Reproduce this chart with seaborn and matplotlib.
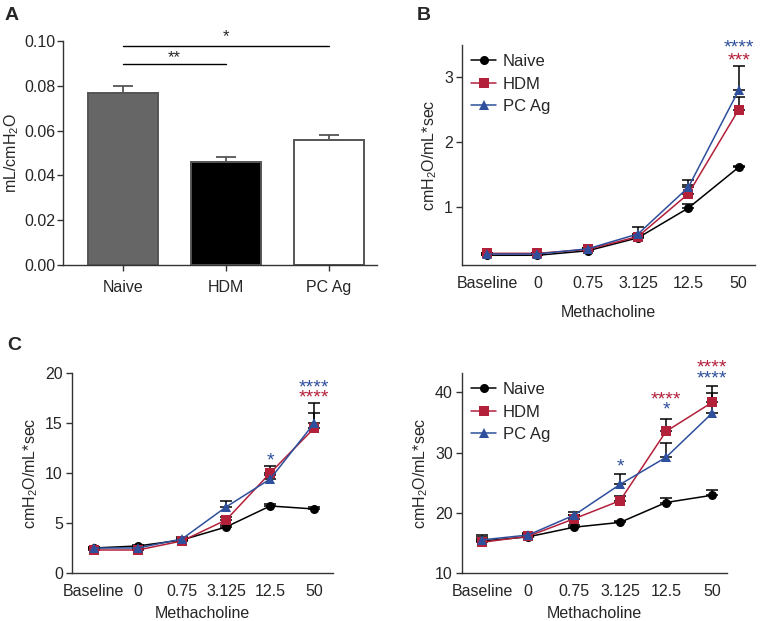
import matplotlib
matplotlib.use("Agg")
import matplotlib.pyplot as plt
import seaborn as sns
import pandas as pd
import numpy as np

sns.set_theme(style="ticks")
plt.rcParams['font.family'] = ['Liberation Sans', 'DejaVu Sans']
plt.rcParams['mathtext.fontset'] = 'custom'
plt.rcParams['mathtext.rm'] = 'Liberation Sans'
plt.rcParams['mathtext.it'] = 'Liberation Sans:italic'

# ---- data ----
groups = ['Naive', 'HDM', 'PC Ag']
bar_means = [0.077, 0.046, 0.056]
bar_sem = [0.003, 0.002, 0.002]

doses = ['Baseline', '0', '0.75', '3.125', '12.5', '50']

# panel B
b_naive = [0.25, 0.25, 0.32, 0.52, 0.98, 1.61]
b_hdm = [0.28, 0.28, 0.34, 0.54, 1.20, 2.50]
b_pcag = [0.27, 0.27, 0.35, 0.58, 1.30, 2.80]
b_naive_err = [0.01, 0.01, 0.02, 0.02, 0.07, 0.02]
b_hdm_err = [0.01, 0.01, 0.02, 0.03, 0.14, 0.2]
b_pcag_err = [0.01, 0.01, 0.02, 0.11, 0.12, 0.37]

# panel C
c_naive = [2.5, 2.7, 3.3, 4.6, 6.7, 6.4]
c_hdm = [2.3, 2.3, 3.2, 5.3, 10.0, 14.5]
c_pcag = [2.5, 2.5, 3.4, 6.6, 9.4, 15.0]
c_naive_err = [0.1, 0.1, 0.1, 0.2, 0.2, 0.2]
c_hdm_err = [0.1, 0.1, 0.1, 0.3, 0.7, 1.5]
c_pcag_err = [0.1, 0.1, 0.2, 0.6, 0.4, 2.0]

# panel D
d_naive = [15.3, 16.0, 17.6, 18.4, 21.7, 22.9]
d_hdm = [15.1, 16.1, 19.0, 22.0, 33.5, 38.3]
d_pcag = [15.5, 16.3, 19.6, 24.7, 29.2, 36.5]
d_naive_err = [1.0, 0.3, 0.3, 0.3, 0.8, 0.9]
d_hdm_err = [0.5, 0.4, 0.6, 0.7, 2.0, 2.8]
d_pcag_err = [0.4, 0.4, 0.6, 1.8, 2.3, 3.4]

RED = '#B3203A'
BLUE = '#2E4F9C'
palette = {'Naive': 'black', 'HDM': RED, 'PC Ag': BLUE}
markers = {'Naive': 'o', 'HDM': 's', 'PC Ag': '^'}

fig = plt.figure(figsize=(7.67, 6.21), dpi=100)
axA = fig.add_axes([0.0821, 0.5733, 0.4094, 0.3607])
axB = fig.add_axes([0.6023, 0.5733, 0.3817, 0.3542])
axC = fig.add_axes([0.0939, 0.0773, 0.3401, 0.3221])
axD = fig.add_axes([0.6023, 0.0773, 0.3457, 0.3221])

FS = 11.5
SPINE = '#333333'


def style_axes(ax):
    sns.despine(ax=ax)
    for s in ['left', 'bottom']:
        ax.spines[s].set_color(SPINE)
        ax.spines[s].set_linewidth(1.0)
    ax.tick_params(axis='both', direction='out', length=4.5, width=1,
                   color=SPINE, labelsize=FS, pad=2)


# ---- panel A ----
dfA = pd.DataFrame({'group': groups, 'value': bar_means})
sns.barplot(data=dfA, x='group', y='value', ax=axA, width=0.68,
            palette=['#666666', 'black', 'white'], hue='group', legend=False,
            edgecolor='#555555', linewidth=1.4, errorbar=None)
axA.errorbar(range(len(groups)), bar_means, yerr=[np.zeros(3), bar_sem],
             fmt='none', ecolor='#555555', elinewidth=1.3, capsize=7,
             capthick=1.3, zorder=0)
axA.set_ylim(0, 0.1)
axA.set_xlim(-0.58, 2.47)
axA.set_yticks(np.arange(0, 0.101, 0.02))
axA.set_yticklabels(['%.2f' % v for v in np.arange(0, 0.101, 0.02)])
axA.set_xlabel('')
axA.set_ylabel('mL/cmH$_2$O', fontsize=FS, labelpad=2)
style_axes(axA)
axA.tick_params(axis='y', pad=1)
axA.tick_params(axis='x', pad=6)
# significance bars
axA.plot([0, 1], [0.0897, 0.0897], color='black', lw=1)
axA.plot([0, 2], [0.0978, 0.0978], color='black', lw=1, clip_on=False)
axA.text(0.5, 0.0925, '**', ha='center', va='center', fontsize=12)
axA.text(1.0, 0.1020, '*', ha='center', va='center', fontsize=12, clip_on=False)


def line_panel(ax, naive, hdm, pcag, errs, ylim, yticks, legend, xpad):
    rows = []
    for g, vals in zip(groups, [naive, hdm, pcag]):
        for i, v in enumerate(vals):
            rows.append({'pos': i, 'value': v, 'group': g})
    df = pd.DataFrame(rows)
    for g, vals, e in zip(groups, [naive, hdm, pcag], errs):
        ax.errorbar(range(len(doses)), vals, yerr=[np.zeros(len(vals)), e],
                    fmt='none', ecolor='black', elinewidth=1.1, capsize=4.5,
                    capthick=1.1, zorder=1)
    sns.lineplot(data=df, x='pos', y='value', hue='group', style='group',
                 palette=palette, markers=markers, dashes=False, ax=ax,
                 markersize=6.5, markeredgewidth=0, linewidth=1.1,
                 legend=legend, zorder=2)
    ax.set_xticks(range(len(doses)))
    ax.set_xticklabels(doses)
    ax.set_ylim(*ylim)
    ax.set_yticks(yticks)
    ax.set_xlabel('Methacholine', fontsize=FS, labelpad=xpad)
    ax.set_ylabel('cmH$_2$O/mL*sec', fontsize=FS)
    style_axes(ax)
    ax.tick_params(axis='x', length=0, pad=8)
    if legend:
        leg = ax.legend(loc='upper left', frameon=False, fontsize=12,
                        handlelength=1.5, handletextpad=0.4, labelspacing=0.45,
                        borderaxespad=0.15, bbox_to_anchor=(0.0, 1.0))
        for h in leg.legend_handles:
            h.set_markersize(6.5)


def stars(ax, x, y, txt, color):
    ax.text(x, y, txt, ha='center', va='center', color=color, fontsize=14,
            clip_on=False)


# ---- panel B ----
line_panel(axB, b_naive, b_hdm, b_pcag, [b_naive_err, b_hdm_err, b_pcag_err],
           (0.1, 3.5), [1, 2, 3], 'auto', 10)
axB.set_xlim(-0.5, 5.32)
stars(axB, 5, 3.46, '****', BLUE)
stars(axB, 5, 3.26, '***', RED)

# ---- panel C ----
line_panel(axC, c_naive, c_hdm, c_pcag, [c_naive_err, c_hdm_err, c_pcag_err],
           (0, 20), [0, 5, 10, 15, 20], False, 5)
axC.set_xlim(-0.49, 5.42)
stars(axC, 5, 18.55, '****', BLUE)
stars(axC, 5, 17.55, '****', RED)
stars(axC, 4, 11.2, '*', BLUE)

# ---- panel D ----
line_panel(axD, d_naive, d_hdm, d_pcag, [d_naive_err, d_hdm_err, d_pcag_err],
           (10, 43.2), [10, 20, 30, 40], 'auto', 5)
axD.set_xlim(-0.44, 5.33)
stars(axD, 5, 44.05, '****', RED)
stars(axD, 5, 42.15, '****', BLUE)
stars(axD, 4, 38.8, '****', RED)
stars(axD, 4, 37.05, '*', BLUE)
stars(axD, 3, 27.55, '*', BLUE)

# panel letters
fig.text(0.006, 0.988, 'A', fontsize=14, fontweight='bold', va='top')
fig.text(0.543, 0.988, 'B', fontsize=14, fontweight='bold', va='top')
fig.text(0.010, 0.458, 'C', fontsize=14, fontweight='bold', va='top')

fig.savefig('out.png', dpi=100)
